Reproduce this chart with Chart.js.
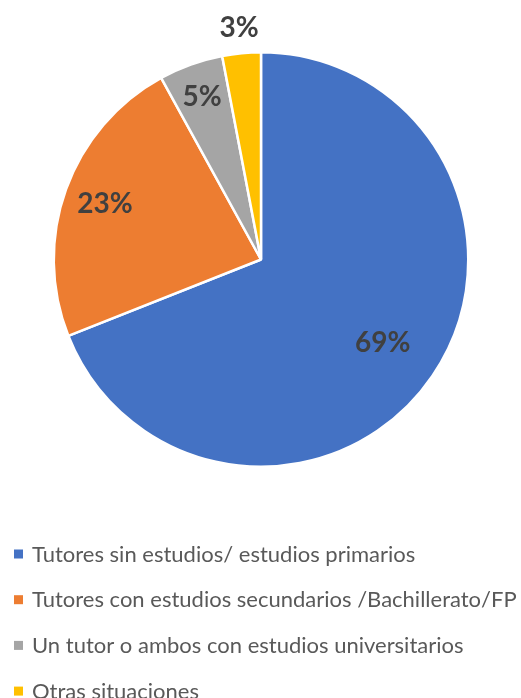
<!DOCTYPE html>
<html>
<head>
<meta charset="utf-8">
<script src="https://cdn.jsdelivr.net/npm/chart.js@4.4.1/dist/chart.umd.min.js"></script>
<style>
  html, body { margin: 0; padding: 0; background: #fff; }
  canvas { display: block; }
</style>
</head>
<body>
<canvas id="pieChart" width="521" height="698"></canvas>
<script>
const categories = [
  'Tutores sin estudios/ estudios primarios',
  'Tutores con estudios secundarios /Bachillerato/FP',
  'Un tutor o ambos con estudios universitarios',
  'Otras situaciones'
];
const shares = [69, 23, 5, 3];
const colors = ['#4472C4', '#ED7D31', '#A5A5A5', '#FFC000'];

// percentage labels, placed along each slice's middle angle
const sliceLabels = {
  id: 'sliceLabels',
  afterDatasetsDraw(chart) {
    const c = chart.ctx;
    const meta = chart.getDatasetMeta(0);
    const dist = [0.71, 0.80, 0.84, 1.125];
    c.save();
    c.font = 'bold 28px Lato';
    c.fillStyle = '#404040';
    c.textAlign = 'center';
    c.textBaseline = 'alphabetic';
    meta.data.forEach((arc, i) => {
      const p = arc.getProps(['x', 'y', 'startAngle', 'endAngle', 'outerRadius'], true);
      const mid = (p.startAngle + p.endAngle) / 2;
      const r = p.outerRadius * dist[i];
      const x = p.x + Math.cos(mid) * r;
      const y = p.y + Math.sin(mid) * r;
      c.fillText(shares[i] + '%', x, y + 10);
    });
    c.restore();
  }
};

// legend drawn as one column at the bottom left
const columnLegend = {
  id: 'columnLegend',
  afterDraw(chart) {
    const c = chart.ctx;
    const ds = chart.data.datasets[0];
    c.save();
    c.font = '22px Lato';
    c.textBaseline = 'alphabetic';
    c.textAlign = 'left';
    chart.data.labels.forEach((lbl, i) => {
      const cy = 554 + i * 45.7;
      c.fillStyle = ds.backgroundColor[i];
      c.fillRect(14, cy - 4.5, 9, 9);
      c.fillStyle = '#595959';
      c.fillText(lbl, 32, cy + 7.5);
    });
    c.restore();
  }
};

new Chart(document.getElementById('pieChart'), {
  type: 'pie',
  data: {
    labels: categories,
    datasets: [{
      data: shares,
      backgroundColor: colors,
      borderColor: '#ffffff',
      borderWidth: 2.5
    }]
  },
  options: {
    responsive: false,
    animation: false,
    layout: { padding: { top: 51, bottom: 230, left: 1, right: 0 } },
    plugins: {
      legend: { display: false },
      tooltip: { enabled: false }
    }
  },
  plugins: [sliceLabels, columnLegend]
});
</script>
</body>
</html>
